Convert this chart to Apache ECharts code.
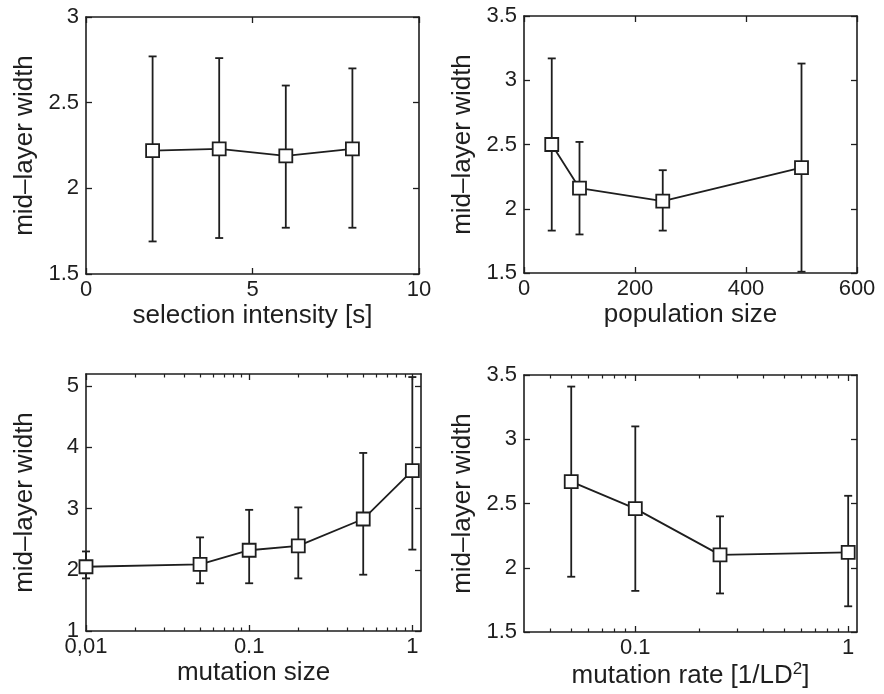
<!DOCTYPE html>
<html>
<head>
<meta charset="utf-8">
<script src="https://cdn.jsdelivr.net/npm/echarts@6/dist/echarts.min.js"></script>
<style>
  html, body { margin: 0; padding: 0; background: #fff; }
  #chart { width: 884px; height: 694px; }
</style>
</head>
<body>
<div id="chart"></div>
<script>
// selection intensity panel
const selX = [2, 4, 6, 8];
const selMean = [2.22, 2.23, 2.19, 2.23];
const selLow = [1.69, 1.71, 1.77, 1.77];
const selHigh = [2.77, 2.76, 2.6, 2.7];
const selXTicks = [0, 5, 10];
const selYTicks = [1.5, 2, 2.5, 3];

// population size panel
const popX = [50, 100, 250, 500];
const popMean = [2.5, 2.16, 2.06, 2.32];
const popLow = [1.83, 1.8, 1.83, 1.51];
const popHigh = [3.17, 2.52, 2.3, 3.13];
const popXTicks = [0, 200, 400, 600];
const popYTicks = [1.5, 2, 2.5, 3, 3.5];

// mutation size panel (log x)
const msX = [0.01, 0.05, 0.1, 0.2, 0.5, 1];
const msMean = [2.05, 2.09, 2.32, 2.39, 2.83, 3.62];
const msLow = [1.86, 1.78, 1.78, 1.86, 1.92, 2.33];
const msHigh = [2.3, 2.53, 2.98, 3.02, 3.91, 5.15];
const msXTicks = [0.01, 0.1, 1];
const msXLabels = ['0,01', '0.1', '1'];
const msXMinor = [0.02, 0.03, 0.04, 0.05, 0.06, 0.07, 0.08, 0.09, 0.2, 0.3, 0.4, 0.5, 0.6, 0.7, 0.8, 0.9];
const msYTicks = [1, 2, 3, 4, 5];

// mutation rate panel (log x)
const mrX = [0.05, 0.1, 0.25, 1];
const mrMean = [2.67, 2.46, 2.1, 2.12];
const mrLow = [1.93, 1.82, 1.8, 1.7];
const mrHigh = [3.41, 3.1, 2.4, 2.56];
const mrXTicks = [0.1, 1];
const mrXLabels = ['0.1', '1'];
const mrXMinor = [0.04, 0.05, 0.06, 0.07, 0.08, 0.09, 0.2, 0.3, 0.4, 0.5, 0.6, 0.7, 0.8, 0.9];
const mrYTicks = [1.5, 2, 2.5, 3, 3.5];

const INK = '#1e1e1e';
const FONT = 'Liberation Sans';
const yName = 'mid\u2013layer width';

const chart = echarts.init(document.getElementById('chart'));

const grids = [
  { left: 86, top: 17, width: 333, height: 257 },
  { left: 524, top: 16, width: 333, height: 257 },
  { left: 86, top: 374, width: 335, height: 257 },
  { left: 524, top: 375, width: 333, height: 257 },
].map(g => Object.assign({ outerBoundsMode: 'none' }, g));

const xAxes = [];
const yAxes = [];
const series = [];

function mainAxisBits(ticks) {
  return {
    axisLine: { show: true, onZero: false, lineStyle: { color: INK, width: 1.6 } },
    axisTick: { show: true, inside: true, length: 6, customValues: ticks, lineStyle: { color: INK, width: 1.3 } },
    splitLine: { show: false },
    nameMoveOverlap: false,
  };
}

function addPanel(gi, p) {
  const xType = p.log ? 'log' : 'value';
  const labelFmt = p.xLabels ? (v) => {
    const i = p.xTicks.findIndex(t => Math.abs(Math.log10(t) - Math.log10(v)) < 1e-6);
    return i >= 0 ? p.xLabels[i] : '';
  } : undefined;
  // bottom x axis with labels
  const xi = xAxes.length;
  xAxes.push(Object.assign(mainAxisBits(p.xTicks), {
    gridIndex: gi, type: xType, position: 'bottom', min: p.xMin, max: p.xMax,
    name: p.xName, nameLocation: 'middle', nameGap: 29,
    nameTextStyle: { fontFamily: FONT, fontSize: 26, color: INK, rich: p.rich },
    axisLabel: { show: true, customValues: p.xTicks, formatter: labelFmt, margin: 5,
      fontFamily: FONT, fontSize: 22, color: INK },
  }));
  // top mirror
  xAxes.push(Object.assign(mainAxisBits(p.xTicks), {
    gridIndex: gi, type: xType, position: 'top', min: p.xMin, max: p.xMax,
    axisLabel: { show: false },
  }));
  if (p.xMinor) {
    ['bottom', 'top'].forEach(pos => {
      xAxes.push({
        gridIndex: gi, type: xType, position: pos, min: p.xMin, max: p.xMax,
        axisLine: { show: false },
        axisTick: { show: true, inside: true, length: 3.5, customValues: p.xMinor, lineStyle: { color: INK, width: 1.2 } },
        axisLabel: { show: false }, splitLine: { show: false },
      });
    });
  }
  // left y axis with labels
  const yi = yAxes.length;
  yAxes.push(Object.assign(mainAxisBits(p.yTicks), {
    gridIndex: gi, type: 'value', position: 'left', min: p.yMin, max: p.yMax,
    name: yName, nameLocation: 'middle', nameGap: 48,
    nameTextStyle: { fontFamily: FONT, fontSize: 26, color: INK },
    axisLabel: { show: true, customValues: p.yTicks, margin: 7,
      fontFamily: FONT, fontSize: 22, color: INK },
  }));
  yAxes.push(Object.assign(mainAxisBits(p.yTicks), {
    gridIndex: gi, type: 'value', position: 'right', min: p.yMin, max: p.yMax,
    axisLabel: { show: false },
  }));

  series.push({
    type: 'custom',
    xAxisIndex: xi, yAxisIndex: yi,
    data: p.x.map((x, i) => [x, p.low[i], p.high[i]]),
    encode: { x: 0, y: [1, 2] },
    z: 2,
    renderItem: (params, api) => {
      const x = api.value(0);
      const lo = api.coord([x, api.value(1)]);
      const hi = api.coord([x, api.value(2)]);
      const w = 4;
      const st = { stroke: INK, lineWidth: 1.8 };
      return {
        type: 'group',
        children: [
          { type: 'line', shape: { x1: lo[0], y1: lo[1], x2: hi[0], y2: hi[1] }, style: st },
          { type: 'line', shape: { x1: lo[0] - w, y1: lo[1], x2: lo[0] + w, y2: lo[1] }, style: st },
          { type: 'line', shape: { x1: hi[0] - w, y1: hi[1], x2: hi[0] + w, y2: hi[1] }, style: st },
        ],
      };
    },
  });
  series.push({
    type: 'line',
    xAxisIndex: xi, yAxisIndex: yi,
    data: p.x.map((x, i) => [x, p.mean[i]]),
    symbol: 'rect', symbolSize: 13,
    z: 3,
    lineStyle: { color: INK, width: 1.8 },
    itemStyle: { color: '#fff', borderColor: INK, borderWidth: 1.8 },
    animation: false,
  });
}

addPanel(0, { x: selX, mean: selMean, low: selLow, high: selHigh,
  xMin: 0, xMax: 10, xTicks: selXTicks, yMin: 1.5, yMax: 3, yTicks: selYTicks,
  xName: 'selection intensity [s]' });
addPanel(1, { x: popX, mean: popMean, low: popLow, high: popHigh,
  xMin: 0, xMax: 600, xTicks: popXTicks, yMin: 1.5, yMax: 3.5, yTicks: popYTicks,
  xName: 'population size' });
addPanel(2, { log: true, x: msX, mean: msMean, low: msLow, high: msHigh,
  xMin: 0.01, xMax: 1.13, xTicks: msXTicks, xLabels: msXLabels, xMinor: msXMinor,
  yMin: 1, yMax: 5.2, yTicks: msYTicks, xName: 'mutation size' });
addPanel(3, { log: true, x: mrX, mean: mrMean, low: mrLow, high: mrHigh,
  xMin: 0.03, xMax: 1.1, xTicks: mrXTicks, xLabels: mrXLabels, xMinor: mrXMinor,
  yMin: 1.5, yMax: 3.5, yTicks: mrYTicks, xName: 'mutation rate [1/LD{sup|2}]',
  rich: { sup: { fontFamily: FONT, fontSize: 17, color: INK, padding: [0, 0, 12, 0] } } });

chart.setOption({
  animation: false,
  backgroundColor: '#fff',
  grid: grids,
  xAxis: xAxes,
  yAxis: yAxes,
  series: series,
});
</script>
</body>
</html>
